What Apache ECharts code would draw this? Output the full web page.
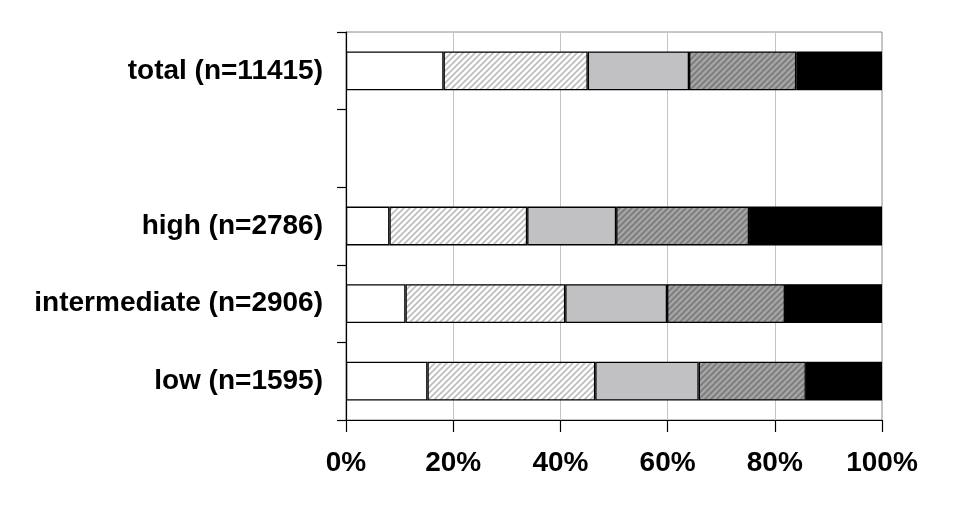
<!DOCTYPE html>
<html>
<head>
<meta charset="utf-8">
<script src="https://cdn.jsdelivr.net/npm/echarts@6/dist/echarts.min.js"></script>
<style>html,body{margin:0;padding:0;background:#fff}#c{width:968px;height:511px}</style>
</head>
<body>
<div id="c"></div>
<script>
// Data (percent shares per group, from left to right segment)
const categories = ['low (n=1595)', 'intermediate (n=2906)', 'high (n=2786)', '', 'total (n=11415)'];
const seg1 = [15.2, 11.1, 8.1, null, 18.2];   // white
const seg2 = [31.3, 29.8, 25.7, null, 26.9];  // light hatched
const seg3 = [19.3, 19.0, 16.6, null, 18.9];  // light gray
const seg4 = [20.0, 22.0, 24.8, null, 20.0];  // dark hatched
const seg5 = [14.2, 18.1, 24.8, null, 16.0];  // black
const xTicks = [0, 20, 40, 60, 80, 100];

function hatch(bg, fg, lw) {
  const s = 6;
  const cv = document.createElement('canvas');
  cv.width = s; cv.height = s;
  const ctx = cv.getContext('2d');
  ctx.fillStyle = bg; ctx.fillRect(0, 0, s, s);
  ctx.strokeStyle = fg; ctx.lineWidth = lw;
  ctx.beginPath();
  ctx.moveTo(-1, s + 1); ctx.lineTo(s + 1, -1);
  ctx.moveTo(-2, 2); ctx.lineTo(2, -2);
  ctx.moveTo(s - 2, s + 2); ctx.lineTo(s + 2, s - 2);
  ctx.stroke();
  return { image: cv, repeat: 'repeat' };
}

const chart = echarts.init(document.getElementById('c'), null, { renderer: 'canvas' });
const border = { borderColor: '#000', borderWidth: 1.3 };
const mk = (name, data, color) => ({
  name, type: 'bar', stack: 'all', data, barWidth: '50%',
  itemStyle: Object.assign({ color }, border),
  emphasis: { disabled: true }
});
chart.setOption({
  animation: false,
  grid: { left: 346, right: 86, top: 32, bottom: 91, show: true, borderColor: '#8c8c8c', borderWidth: 1 },
  xAxis: {
    type: 'value', min: 0, max: 100, interval: 20,
    axisLine: { show: true, lineStyle: { color: '#000', width: 1.2 } },
    axisTick: { show: true, length: 12, lineStyle: { color: '#000', width: 1.2 } },
    splitLine: { show: true, lineStyle: { color: '#c4c4c4', width: 1 } },
    axisLabel: { formatter: v => xTicks.includes(v) ? v + '%' : '', margin: 29, color: '#000',
      fontFamily: 'Liberation Sans, Arial, sans-serif', fontWeight: 'bold', fontSize: 28 }
  },
  yAxis: {
    type: 'category', data: categories,
    axisLine: { show: true, lineStyle: { color: '#000', width: 1.2 } },
    axisTick: { show: true, length: 9, lineStyle: { color: '#000', width: 1.2 } },
    axisLabel: { margin: 23, color: '#000',
      fontFamily: 'Liberation Sans, Arial, sans-serif', fontWeight: 'bold', fontSize: 28 }
  },
  series: [
    mk('1', seg1, '#ffffff'),
    mk('2', seg2, hatch('#ffffff', '#bcbcbc', 1.6)),
    mk('3', seg3, '#c1c0c2'),
    mk('4', seg4, hatch('#a4a4a4', '#7a7a7a', 1.6)),
    mk('5', seg5, '#000000')
  ]
});
</script>
</body>
</html>
